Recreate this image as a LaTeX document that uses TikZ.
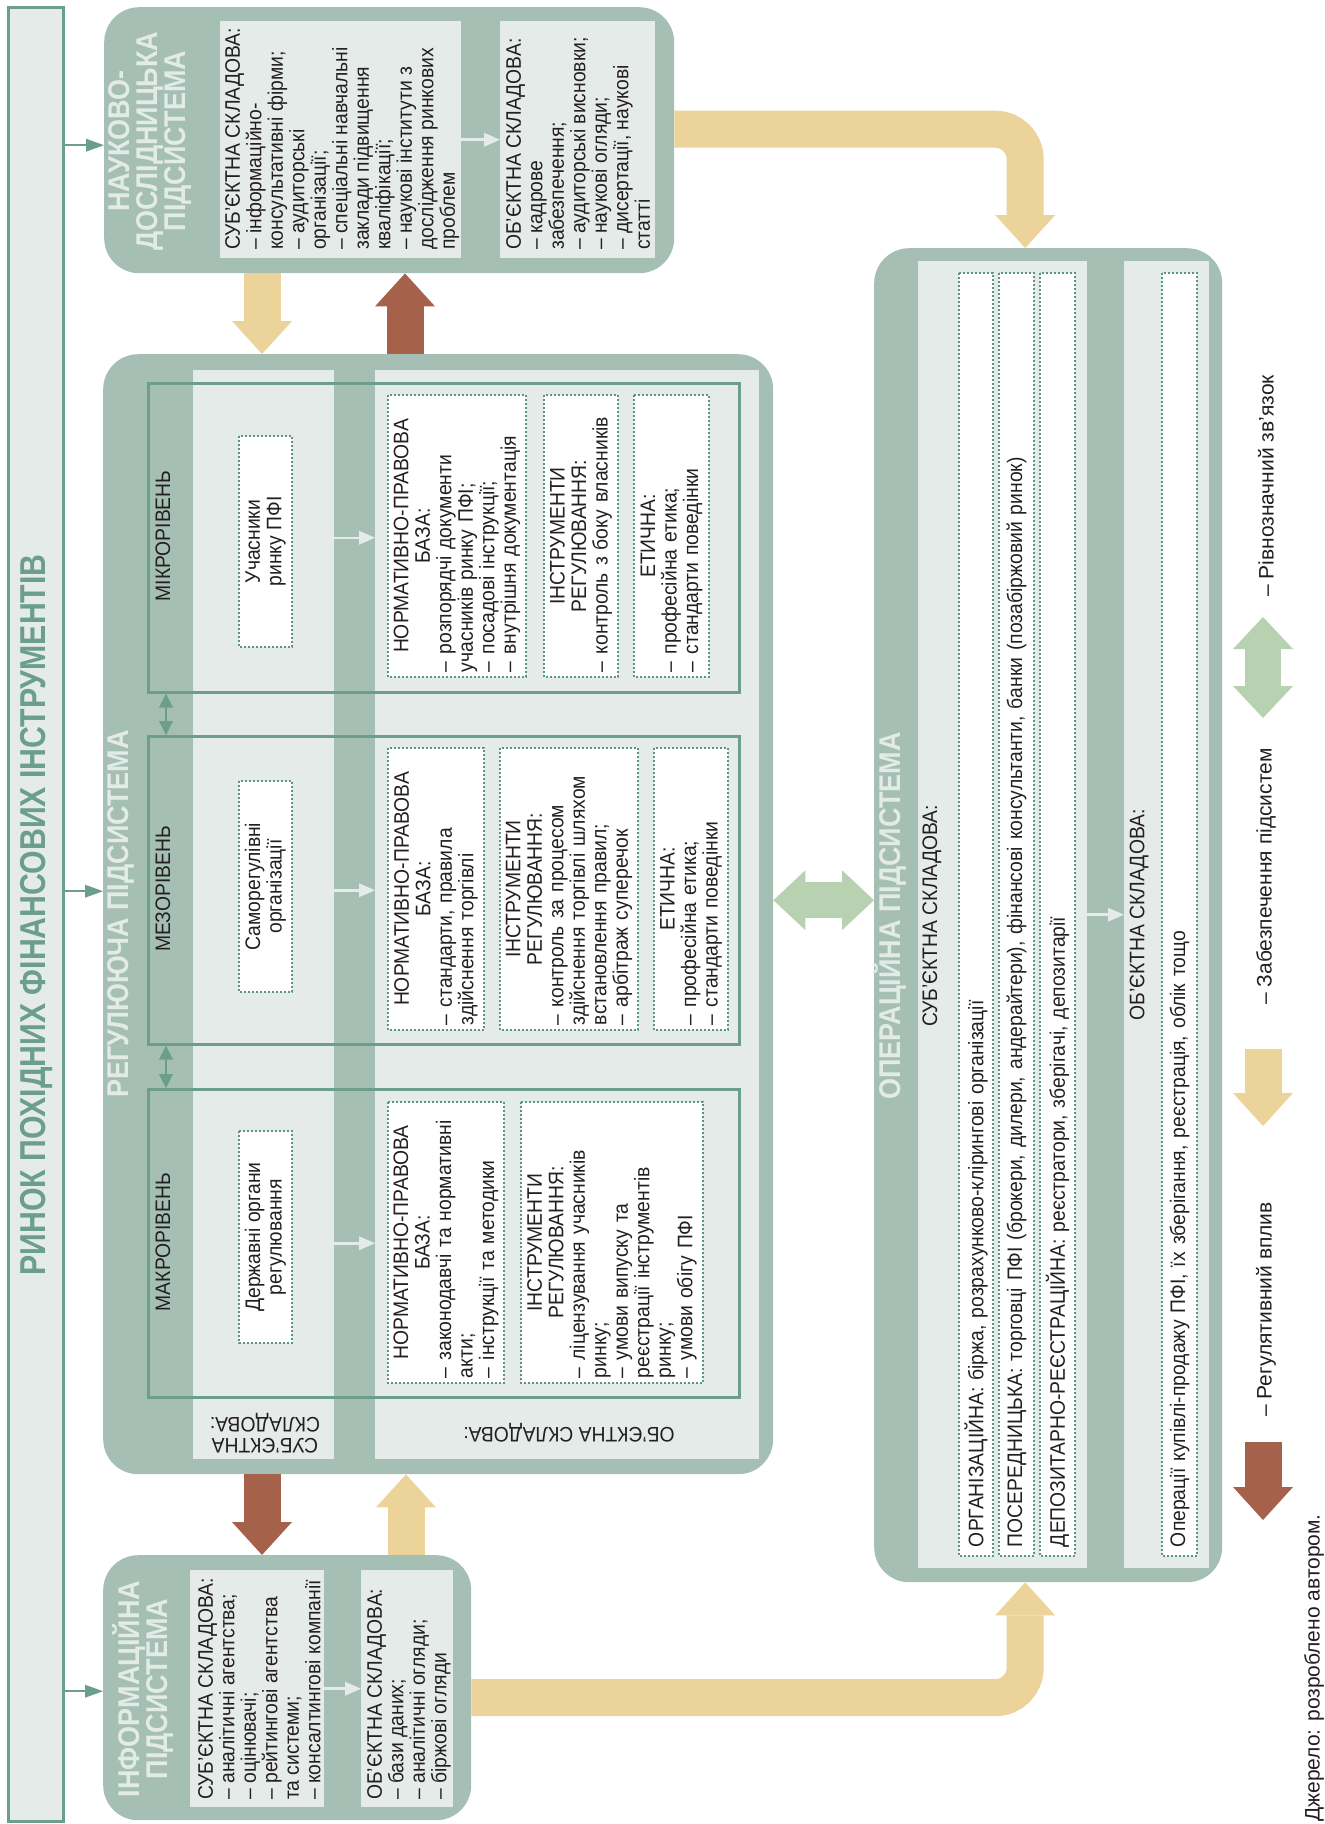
\documentclass[tikz,border=0pt]{standalone}
\usepackage{fontspec}
\setmainfont{Liberation Sans}[FakeStretch=0.92]
\newfontfamily\headfont{Liberation Sans}[FakeStretch=0.9]
\newfontfamily\marketfont{Liberation Sans}[FakeStretch=0.84]
\newfontfamily\legendfont{Liberation Sans}
\usetikzlibrary{arrows.meta, positioning, calc}
\definecolor{blockgray}{HTML}{A5BFB5}
\definecolor{panelgray}{HTML}{E5EBE8}
\definecolor{tealline}{HTML}{6B9F8C}
\definecolor{dotteal}{HTML}{5A9580}
\definecolor{titlelight}{HTML}{E3EBE7}
\definecolor{supplyyellow}{HTML}{EBD399}
\definecolor{regulred}{HTML}{A6614B}
\definecolor{equivgreen}{HTML}{B8D1B0}
\definecolor{textdark}{HTML}{231F20}
\newcommand\txtsize{\fontsize{21pt}{21.5pt}\selectfont\lineskiplimit=-40pt}
\newcommand\headsize{\headfont\bfseries\fontsize{30pt}{28pt}\selectfont\lineskiplimit=-40pt}
\newcommand\marketsize{\marketfont\bfseries\fontsize{36pt}{38pt}\selectfont}
\newcommand\legendsize{\legendfont\fontsize{21pt}{24pt}\selectfont}
\newcommand\boxhead[1]{{\centering #1\par}}

\begin{document}
\begin{tikzpicture}[x=1pt, y=-1pt,
  marketbar/.style={rectangle, fill=panelgray, draw=tealline, line width=2.5pt, anchor=north west, inner sep=0pt},
  block/.style={rectangle, fill=blockgray, rounded corners=35pt, anchor=north west, inner sep=0pt},
  panel/.style={rectangle, fill=panelgray, anchor=north west, inner sep=0pt},
  levelbox/.style={rectangle, draw=tealline, line width=2.5pt, anchor=north west, inner sep=0pt},
  dotbox/.style={rectangle, draw=dotteal, line width=1.8pt, dash pattern=on 1.8pt off 2.2pt, fill=white, rotate=90, inner xsep=5pt, inner ysep=2pt, align=left, font=\txtsize, text=textdark},
  actor/.style={dotbox, align=center},
  note/.style={rotate=90, anchor=north west, align=left, inner sep=0pt, font=\txtsize, text=textdark},
  levelname/.style={rotate=90, inner sep=0pt, font=\txtsize, text=textdark},
  systitle/.style={rotate=90, align=center, inner sep=0pt, font=\headsize, text=titlelight},
  legendtext/.style={rotate=90, anchor=west, inner sep=0pt, font=\legendsize, text=textdark},
  feed/.style={draw=panelgray, line width=2.5pt, -{Triangle[length=16pt, width=14pt, line width=0pt]}},
  link/.style={draw=tealline, line width=2.5pt, -{Triangle[length=18pt, width=13pt, line width=0pt]}},
  linkboth/.style={draw=tealline, line width=2.5pt, {Triangle[length=14pt, width=14pt, line width=0pt]}-{Triangle[length=14pt, width=14pt, line width=0pt]}},
  supply/.style={draw=supplyyellow, line width=37pt, -{Triangle[length=33pt, width=60pt, line width=0pt]}},
  regul/.style={draw=regulred, line width=37pt, -{Triangle[length=33pt, width=60pt, line width=0pt]}},
  equiv/.style={draw=equivgreen, line width=36pt, {Triangle[length=32pt, width=60pt, line width=0pt]}-{Triangle[length=32pt, width=60pt, line width=0pt]}}
]
  \useasboundingbox (0,0) rectangle (1325,1824);

  % Market bar
  \node[marketbar, minimum width=55pt, minimum height=1814pt] (market) at (7,6) {};
  \node[rotate=90, inner sep=0pt, font=\marketsize, text=tealline] (marketTitle) at (37,915) {РИНОК ПОХІДНИХ ФІНАНСОВИХ ІНСТРУМЕНТІВ};

  % Subsystem blocks
  \node[block, minimum width=570pt, minimum height=266pt] (sci) at (104,7) {};
  \node[block, minimum width=670pt, minimum height=1120pt] (reg) at (103,354) {};
  \node[block, minimum width=368pt, minimum height=265pt] (info) at (103,1555) {};
  \node[block, minimum width=348pt, minimum height=1334pt] (ops) at (874,248) {};

  % Panels
  \node[panel, minimum width=241pt, minimum height=237pt] (sciS) at (220,21) {};
  \node[panel, minimum width=155pt, minimum height=237pt] (sciO) at (500,21) {};
  \node[panel, minimum width=141pt, minimum height=1089pt] (regS) at (193,370) {};
  \node[panel, minimum width=384pt, minimum height=1089pt] (regO) at (375,370) {};
  \node[panel, minimum width=134pt, minimum height=237pt] (infoS) at (190,1570) {};
  \node[panel, minimum width=92pt, minimum height=237pt] (infoO) at (361,1570) {};
  \node[panel, minimum width=169pt, minimum height=1307pt] (opsS) at (918,261) {};
  \node[panel, minimum width=85pt, minimum height=1307pt] (opsO) at (1124,261) {};

  % Science subsystem
  \node[systitle] (sciTitle) at (150,141) {НАУКОВО-\\ДОСЛІДНИЦЬКА\\ПІДСИСТЕМА};
  \node[note] (sciSText) at (225,250) {СУБ’ЄКТНА СКЛАДОВА:\\– інформаційно-\\консультативні фірми;\\– аудиторські\\організації;\\– спеціальні навчальні\\заклади підвищення\\кваліфікації;\\– наукові інститути з\\дослідження ринкових\\проблем};
  \node[note] (sciOText) at (506,250) {ОБ’ЄКТНА СКЛАДОВА:\\– кадрове\\забезпечення;\\– аудиторські висновки;\\– наукові огляди;\\– дисертації, наукові\\статті};

  % Regulatory subsystem
  \node[systitle] (regTitle) at (121,914) {РЕГУЛЮЮЧА ПІДСИСТЕМА};
  \node[levelbox, minimum width=591pt, minimum height=309pt] (micro) at (147,382) {};
  \node[levelbox, minimum width=591pt, minimum height=308pt] (meso) at (147,735) {};
  \node[levelbox, minimum width=591pt, minimum height=308pt] (macro) at (147,1088) {};
  \node[levelname] (microName) at (163,536) {МІКРОРІВЕНЬ};
  \node[levelname] (mesoName) at (163,889) {МЕЗОРІВЕНЬ};
  \node[levelname] (macroName) at (163,1242) {МАКРОРІВЕНЬ};

  \node[actor, minimum width=211pt, minimum height=53pt] (microActor) at (265.5,541.5) {Учасники\\ринку ПФІ};
  \node[actor, minimum width=211pt, minimum height=53pt] (mesoActor) at (265.5,886.5) {Саморегулівні\\організації};
  \node[actor, minimum width=212pt, minimum height=53pt] (macroActor) at (265.5,1237) {Державні органи\\регулювання};

  \node[dotbox, text width=272pt, minimum width=282pt, minimum height=138pt] (microBase) at (457,536) {\boxhead{НОРМАТИВНО-ПРАВОВА\\БАЗА:}– розпорядчі документи\\учасників ринку ПФІ;\\– посадові інструкції;\\– внутрішня документація};
  \node[dotbox, text width=272pt, minimum width=282pt, minimum height=74pt] (microTools) at (581,536) {\boxhead{ІНСТРУМЕНТИ\\РЕГУЛЮВАННЯ:}– контроль з боку власників};
  \node[dotbox, text width=272pt, minimum width=282pt, minimum height=75pt] (microEthic) at (671.5,536) {\boxhead{ЕТИЧНА:}– професійна етика;\\– стандарти поведінки};

  \node[dotbox, text width=272pt, minimum width=282pt, minimum height=96pt] (mesoBase) at (436,889) {\boxhead{НОРМАТИВНО-ПРАВОВА\\БАЗА:}– стандарти, правила\\здійснення торгівлі};
  \node[dotbox, text width=272pt, minimum width=282pt, minimum height=138pt] (mesoTools) at (569,889) {\boxhead{ІНСТРУМЕНТИ\\РЕГУЛЮВАННЯ:}– контроль за процесом\\здійснення торгівлі шляхом\\встановлення правил;\\– арбітраж суперечок};
  \node[dotbox, text width=272pt, minimum width=282pt, minimum height=74pt] (mesoEthic) at (691,889) {\boxhead{ЕТИЧНА:}– професійна етика;\\– стандарти поведінки};

  \node[dotbox, text width=271pt, minimum width=281pt, minimum height=116pt] (macroBase) at (446,1242.5) {\boxhead{НОРМАТИВНО-ПРАВОВА\\БАЗА:}– законодавчі та нормативні\\акти;\\– інструкції та методики};
  \node[dotbox, text width=271pt, minimum width=281pt, minimum height=182pt] (macroTools) at (612,1242.5) {\boxhead{ІНСТРУМЕНТИ\\РЕГУЛЮВАННЯ:}– ліцензування учасників\\ринку;\\– умови випуску та\\реєстрації інструментів\\ринку;\\– умови обігу ПФІ};

  \node[rotate=180, align=center, inner sep=0pt, font=\txtsize, text=textdark] (regSName) at (265,1433) {СУБ’ЄКТНА\\СКЛАДОВА:};
  \node[rotate=180, inner sep=0pt, font=\txtsize, text=textdark] (regOName) at (569,1433) {ОБ’ЄКТНА СКЛАДОВА:};

  % Information subsystem
  \node[systitle] (infoTitle) at (143,1689) {ІНФОРМАЦІЙНА\\ПІДСИСТЕМА};
  \node[note] (infoSText) at (198,1800) {СУБ’ЄКТНА СКЛАДОВА:\\– аналітичні агентства;\\– оцінювачі;\\– рейтингові агентства\\та системи;\\– консалтингові компанії};
  \node[note] (infoOText) at (367,1800) {ОБ’ЄКТНА СКЛАДОВА:\\– бази даних;\\– аналітичні огляди;\\– біржові огляди};

  % Operational subsystem
  \node[systitle] (opsTitle) at (890,916) {ОПЕРАЦІЙНА ПІДСИСТЕМА};
  \node[levelname] (opsSName) at (932,916) {СУБ’ЄКТНА СКЛАДОВА:};
  \node[levelname] (opsOName) at (1139,915) {ОБ’ЄКТНА СКЛАДОВА:};
  \node[dotbox, inner xsep=9pt, text width=1265pt, minimum width=1283pt, minimum height=34pt] (opsOrg) at (976,914.5) {ОРГАНІЗАЦІЙНА: біржа, розрахунково-клірингові організації};
  \node[dotbox, inner xsep=9pt, text width=1265pt, minimum width=1283pt, minimum height=35pt] (opsBroker) at (1016.5,914.5) {ПОСЕРЕДНИЦЬКА: торговці ПФІ (брокери, дилери, андерайтери), фінансові консультанти, банки (позабіржовий ринок)};
  \node[dotbox, inner xsep=9pt, text width=1265pt, minimum width=1283pt, minimum height=35pt] (opsDepo) at (1057.5,914.5) {ДЕПОЗИТАРНО-РЕЄСТРАЦІЙНА: реєстратори, зберігачі, депозитарії};
  \node[dotbox, inner xsep=9pt, text width=1265pt, minimum width=1283pt, minimum height=35pt] (opsDeals) at (1179.5,914.5) {Операції купівлі-продажу ПФІ, їх зберігання, реєстрація, облік тощо};

  % Inner arrows
  \draw[feed] (sciS) -- (sciO);
  \draw[feed] (infoS) -- (infoO);
  \draw[feed] (opsS) -- (opsO);
  \draw[feed] (regS.east |- micro) -- (regO.west |- micro);
  \draw[feed] (regS.east |- meso) -- (regO.west |- meso);
  \draw[feed] (regS.east |- macro) -- (regO.west |- macro);
  \draw[linkboth] ($(micro.south west)+(19,0)$) -- ($(meso.north west)+(19,0)$);
  \draw[linkboth] ($(meso.south west)+(19,0)$) -- ($(macro.north west)+(19,0)$);

  % Market arrows
  \draw[link] ($(market.east |- sci.west)+(0,5)$) -- ($(sci.west)+(0,5)$);
  \draw[link] ($(market.east |- reg.west)+(0,-23)$) -- ($(reg.west)+(0,-23)$);
  \draw[link] ($(market.east |- info.west)+(0,3.5)$) -- ($(info.west)+(0,3.5)$);

  % Subsystem arrows
  \draw[supply] ($(sci.south west)+(158,0)$) -- ($(reg.north west)+(159,0)$);
  \draw[regul] ($(reg.north west)+(302,0)$) -- ($(sci.south west)+(301,0)$);
  \draw[regul] ($(reg.south west)+(159,0)$) -- ($(info.north west)+(159,0)$);
  \draw[supply] ($(info.north west)+(303,0)$) -- ($(reg.south west)+(303,0)$);
  \draw[supply, rounded corners=30pt] ($(sci.east)+(0,-11)$) -| ($(ops.north)+(-23,0)$);
  \draw[supply, rounded corners=30pt] ($(info.east)+(0,10)$) -| ($(ops.south)+(-23,0)$);
  \draw[equiv] ($(reg.east)+(0,-14)$) -- ($(reg.east -| ops.west)+(0,-14)$);

  % Legend
  \coordinate (eqTop) at (1263,617);
  \coordinate (eqBottom) at (1263,718);
  \coordinate (supTop) at (1263,1049);
  \coordinate (supTip) at (1263,1126);
  \coordinate (regLgTop) at (1263,1442);
  \coordinate (regLgTip) at (1263,1520);
  \draw[equiv] (eqTop) -- (eqBottom);
  \draw[supply] (supTop) -- (supTip);
  \draw[regul] (regLgTop) -- (regLgTip);
  \node[legendtext] (eqText) at (1266,597) {– Рівнозначний зв’язок};
  \node[legendtext] (supText) at (1266,1005) {– Забезпечення підсистем};
  \node[legendtext] (regLgText) at (1266,1417) {– Регулятивний вплив};
  \node[legendtext] (source) at (1314,1822) {Джерело: розроблено автором.};
\end{tikzpicture}
\end{document}
